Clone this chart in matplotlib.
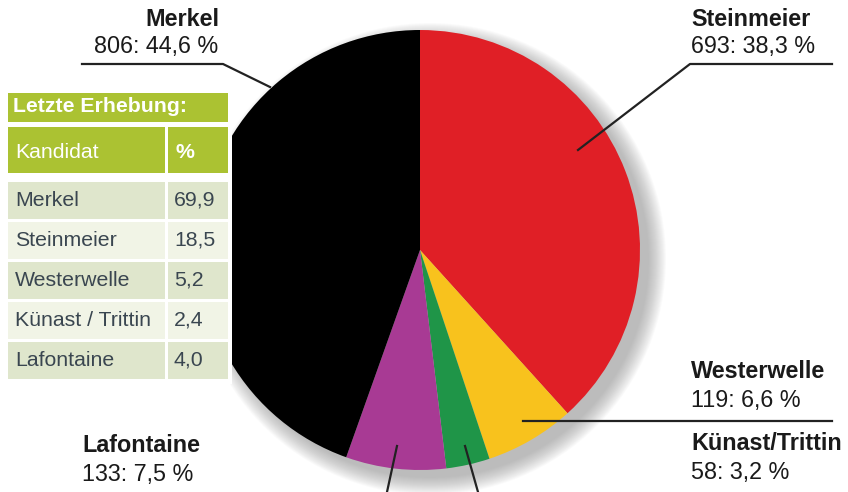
import matplotlib.pyplot as plt
from matplotlib.patches import Rectangle, Circle

plt.rcParams['font.family'] = ['Liberation Sans', 'DejaVu Sans']

# Umfrage-Ergebnis (Stimmen)
namen = ['Steinmeier', 'Westerwelle', 'Künast/Trittin', 'Lafontaine', 'Merkel']
stimmen = [693, 119, 58, 133, 806]
prozent = ['38,3', '6,6', '3,2', '7,5', '44,6']
farben = ['#e01f26', '#f8c21d', '#1f9548', '#a83a94', '#000000']

# Tabelle "Letzte Erhebung"
tab_titel = 'Letzte Erhebung:'
tab_kopf = ['Kandidat', '%']
tab_kandidat = ['Merkel', 'Steinmeier', 'Westerwelle', 'Künast / Trittin', 'Lafontaine']
tab_prozent = ['69,9', '18,5', '5,2', '2,4', '4,0']

W, H = 848, 492
fig = plt.figure(figsize=(W / 100, H / 100), dpi=100)
ax = fig.add_axes([0, 0, 1, 1])


def py(y):
    return H - y


# SCHATTEN #
cx, cy, r = 420, 250, 220
for k in range(18):
    ax.add_patch(Circle((cx + 10, py(cy + 9)), r + 16 - k, color='#808080',
                        alpha=0.035, lw=0, zorder=1))

# TORTE #
ax.pie(stimmen, colors=farben, startangle=90, counterclock=False,
       center=(cx, py(cy)), radius=r, wedgeprops=dict(linewidth=0, zorder=2))

# BESCHRIFTUNGEN #
txt = '#1a1a1a'
fs = 16.8
ax.text(219, py(19), 'Merkel', ha='right', va='center', fontsize=fs, fontweight='bold', color=txt)
ax.text(218, py(46), f'{stimmen[4]}: {prozent[4]} %', ha='right', va='center', fontsize=fs, color=txt)

ax.text(691, py(19), 'Steinmeier', ha='left', va='center', fontsize=fs, fontweight='bold', color=txt)
ax.text(691, py(46), f'{stimmen[0]}: {prozent[0]} %', ha='left', va='center', fontsize=fs, color=txt)

ax.text(691, py(372), 'Westerwelle', ha='left', va='center', fontsize=fs, fontweight='bold', color=txt)
ax.text(691, py(400), f'{stimmen[1]}: {prozent[1]} %', ha='left', va='center', fontsize=fs, color=txt)

ax.text(691, py(443), 'Künast/Trittin', ha='left', va='center', fontsize=fs, fontweight='bold', color=txt)
ax.text(691, py(473), f'{stimmen[2]}: {prozent[2]} %', ha='left', va='center', fontsize=fs, color=txt)

ax.text(82, py(446), 'Lafontaine', ha='left', va='center', fontsize=fs, fontweight='bold', color=txt)
ax.text(82, py(475), f'{stimmen[3]}: {prozent[3]} %', ha='left', va='center', fontsize=fs, color=txt)

# Linien
lc = '#222222'
lw = 1.6
ax.plot([82, 223, 270], [py(64), py(64), py(87)], color=lc, lw=lw, zorder=3)
ax.plot([832, 690, 578], [py(64), py(64), py(150)], color=lc, lw=lw, zorder=3)
ax.plot([523, 832], [py(421), py(421)], color=lc, lw=lw, zorder=3)
ax.plot([397, 387], [py(446), py(492)], color=lc, lw=lw, zorder=3)
ax.plot([465, 478], [py(446), py(492)], color=lc, lw=lw, zorder=3)

# TABELLE #
gruen = '#abc232'
zeile_dunkel = '#dfe6cc'
zeile_hell = '#f1f4e6'
tab_txt = '#3a4650'
tfs = 15.3
x0, x1, x2, x3 = 8, 165, 168, 228

# weisser Hintergrund hinter der Tabelle
ax.add_patch(Rectangle((0, py(384)), 232, 296, color='white', lw=0, zorder=3.5))

ax.add_patch(Rectangle((x0, py(122)), x3 - x0, 29, color=gruen, lw=0, zorder=4))
ax.text(x0 + 5, py(107), tab_titel, ha='left', va='center', fontsize=tfs,
        fontweight='bold', color='white', zorder=5)

ax.add_patch(Rectangle((x0, py(173)), x1 - x0, 46, color=gruen, lw=0, zorder=4))
ax.add_patch(Rectangle((x2, py(173)), x3 - x2, 46, color=gruen, lw=0, zorder=4))
ax.text(x0 + 7, py(152), tab_kopf[0], ha='left', va='center', fontsize=tfs, color='white', zorder=5)
ax.text(x2 + 7, py(152), tab_kopf[1], ha='left', va='center', fontsize=tfs,
        fontweight='bold', color='white', zorder=5)

for i, (name, wert) in enumerate(zip(tab_kandidat, tab_prozent)):
    top = 182 + i * 40
    farbe = zeile_dunkel if i % 2 == 0 else zeile_hell
    ax.add_patch(Rectangle((x0, py(top + 37)), x1 - x0, 37, color=farbe, lw=0, zorder=4))
    ax.add_patch(Rectangle((x2, py(top + 37)), x3 - x2, 37, color=farbe, lw=0, zorder=4))
    ax.text(x0 + 7, py(top + 18), name, ha='left', va='center', fontsize=tfs, color=tab_txt, zorder=5)
    ax.text(x2 + 6, py(top + 18), wert, ha='left', va='center', fontsize=tfs, color=tab_txt, zorder=5)

ax.set_xlim(0, W)
ax.set_ylim(0, H)
ax.set_aspect('equal')
ax.axis('off')

fig.savefig('out.png', dpi=100)
